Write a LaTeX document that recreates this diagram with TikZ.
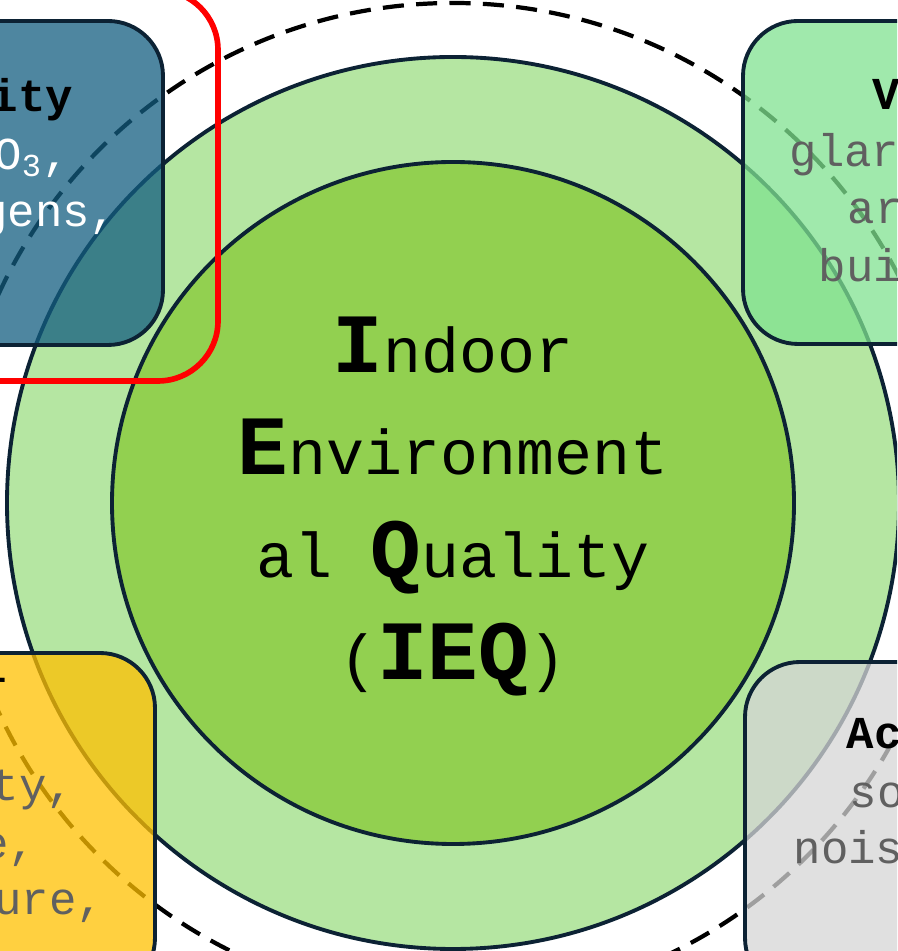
\documentclass[tikz,border=0pt]{standalone}
\usepackage{fontspec}
\newfontfamily\ieqfont{Liberation Mono}
\definecolor{ringgreen}{RGB}{181,230,162}
\definecolor{coregreen}{RGB}{146,208,80}
\definecolor{linenavy}{RGB}{12,34,52}
\definecolor{airblue}{RGB}{19,93,128}
\definecolor{visgreen}{RGB}{128,226,144}
\definecolor{thermyellow}{RGB}{255,192,0}
\definecolor{acougray}{RGB}{213,213,213}
\definecolor{textgray}{RGB}{96,96,96}
\newcommand{\ieqcap}[1]{{\fontsize{24}{29}\selectfont\bfseries #1}}
\tikzset{
	circleline/.style={draw=linenavy, line width=1.1pt},
	factorbox/.style={draw=linenavy, line width=1.1pt, rounded corners=0.55cm, fill opacity=0.75},
	boxtitle/.style={font=\ieqfont\fontsize{13}{16}\selectfont\bfseries, inner sep=0pt},
	boxtext/.style={font=\ieqfont\fontsize{13}{16}\selectfont, inner sep=0pt, text=textgray},
	ieqline/.style={font=\ieqfont\fontsize{18}{29}\selectfont, inner sep=0pt, anchor=base},
}

\begin{document}
\begin{tikzpicture}
		%%%%% START %%%%%
		
		\useasboundingbox (-4.53, -4.48) rectangle (4.44, 5.03);
		\clip (-4.53, -4.48) rectangle (4.44, 5.03);
		
		\draw[line width=1.2pt, dash pattern=on 6pt off 3.5pt] (0, 0) circle (5.00);
		\draw[circleline, fill=ringgreen] (0, 0) circle (4.46);
		\draw[circleline, fill=coregreen] (0, 0) circle (3.41);
		
		% factor boxes
		\draw[factorbox, fill=airblue] (-6.2, 4.82) rectangle (-2.90, 1.58);
		\draw[factorbox, fill=visgreen] (2.90, 4.82) rectangle (6.2, 1.59);
		\draw[factorbox, fill=thermyellow] (-6.2, -1.50) rectangle (-2.98, -4.9);
		\draw[factorbox, fill=acougray] (2.92, -1.59) rectangle (6.2, -4.9);
		
		\draw[line width=1.6pt, color=red, rounded corners=0.6cm] (-7, 5.13) rectangle (-2.35, 1.22);
		
		% air
		\node[boxtitle, anchor=base east] (airtitle) at (-3.79, 3.91) {Air Quality};
		\node[boxtext, anchor=base east, text=white] (airgas) at (-3.82, 3.33) {CO\textsubscript{2}, NO\textsubscript{2}, O\textsubscript{3},};
		\node[boxtext, anchor=base east, text=white] (airbio) at (-3.35, 2.76) {allergens,};
		
		% visual
		\node[boxtitle, anchor=base west] (vistitle) at (4.19, 3.93) {Visual};
		\node[boxtext, anchor=base west] (visglare) at (3.36, 3.36) {glare, daylight,};
		\node[boxtext, anchor=base west] (visart) at (3.94, 2.79) {artificial light,};
		\node[boxtext, anchor=base west] (visbuild) at (3.65, 2.21) {building};
		
		% thermal
		\node[boxtitle, anchor=base east] (thermtitle) at (-4.45, -1.80) {Thermal};
		\node[boxtext, anchor=base east] (thermvel) at (-3.78, -2.97) {air velocity,};
		\node[boxtext, anchor=base east] (thermrate) at (-4.16, -3.55) {metabolic rate,};
		\node[boxtext, anchor=base east] (thermtemp) at (-3.48, -4.11) {temperature,};
		
		% acoustic
		\node[boxtitle, anchor=base west] (acoutitle) at (3.93, -2.45) {Acoustic};
		\node[boxtext, anchor=base west] (acousound) at (3.96, -3.04) {sound,};
		\node[boxtext, anchor=base west] (acounoise) at (3.40, -3.60) {noise,};
		
		% centre
		\node[ieqline] (ieqa) at (0, 1.30) {\ieqcap{I}ndoor};
		\node[ieqline] (ieqb) at (0, 0.28) {\ieqcap{E}nvironment};
		\node[ieqline] (ieqc) at (0, -0.75) {al \ieqcap{Q}uality};
		\node[ieqline] (ieqd) at (0, -1.77) {(\ieqcap{IEQ})};
		
		%%%%% END %%%%%
\end{tikzpicture}
\end{document}
